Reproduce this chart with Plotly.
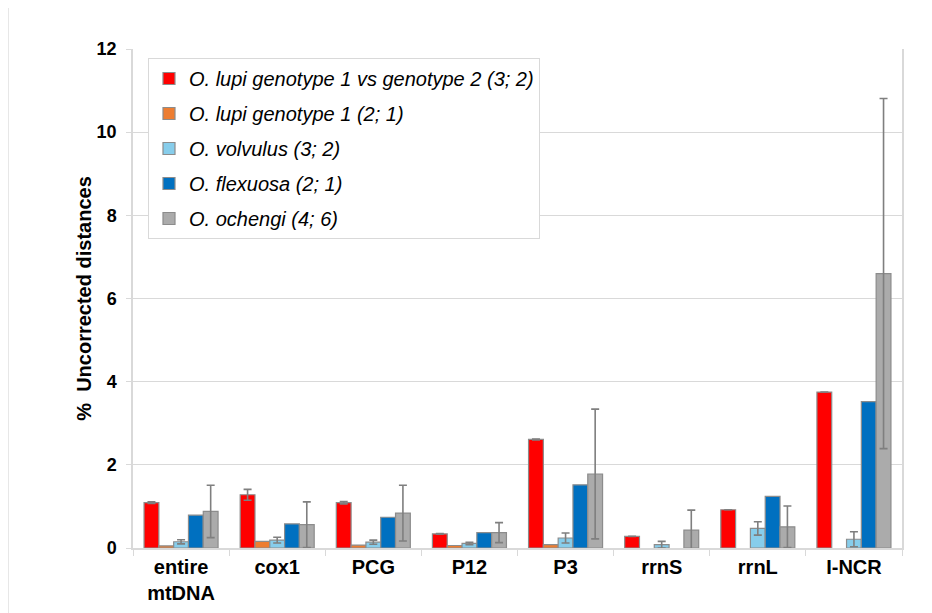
import plotly.graph_objects as go

categories = ["entire<br>mtDNA", "cox1", "PCG", "P12", "P3", "rrnS", "rrnL", "I-NCR"]

series_names = [
    "O. lupi genotype 1 vs genotype 2 (3; 2)",
    "O. lupi genotype 1 (2; 1)",
    "O. volvulus (3; 2)",
    "O. flexuosa (2; 1)",
    "O. ochengi (4; 6)",
]

lupi_g1_vs_g2 = [1.09, 1.28, 1.09, 0.34, 2.61, 0.28, 0.92, 3.75]
lupi_g1_vs_g2_err = [0.02, 0.13, 0.03, 0.01, 0.01, 0.0, 0.0, 0.0]

lupi_g1 = [0.05, 0.16, 0.07, 0.06, 0.08, None, None, None]
lupi_g1_err = [0.0, 0.0, 0.0, 0.0, 0.0, 0.0, 0.0, 0.0]

volvulus = [0.15, 0.19, 0.14, 0.11, 0.24, 0.08, 0.47, 0.21]
volvulus_err = [0.05, 0.07, 0.05, 0.03, 0.12, 0.08, 0.16, 0.18]

flexuosa = [0.79, 0.58, 0.74, 0.37, 1.52, None, 1.24, 3.52]
flexuosa_err = [0.0, 0.0, 0.0, 0.0, 0.0, 0.0, 0.0, 0.0]

ochengi = [0.88, 0.56, 0.84, 0.37, 1.78, 0.43, 0.51, 6.60]
ochengi_err = [0.63, 0.55, 0.67, 0.24, 1.56, 0.48, 0.50, 4.21]

colors = ["#FF0000", "#ED7D31", "#87CDEB", "#0070C0", "#ABABAB"]

values = [lupi_g1_vs_g2, lupi_g1, volvulus, flexuosa, ochengi]
errors = [lupi_g1_vs_g2_err, lupi_g1_err, volvulus_err, flexuosa_err, ochengi_err]
show_err = [True, False, True, False, True]

FONT = "Arial, Liberation Sans, sans-serif"

fig = go.Figure()
for i, (name, vals, errs, col, se) in enumerate(zip(series_names, values, errors, colors, show_err)):
    fig.add_trace(go.Bar(
        x=categories, y=vals, name=name, legendgroup=f"g{i}",
        marker=dict(color=col, line=dict(color="#8C8C8C", width=1.2)),
        error_y=dict(type="data", array=errs, visible=se, color="#7F7F7F",
                     thickness=1.6, width=4),
    ))

fig.update_layout(
    width=932, height=613,
    margin=dict(l=125, r=38, t=41, b=73),
    paper_bgcolor="white", plot_bgcolor="white",
    barmode="group", bargap=0.23, bargroupgap=0,
    font=dict(family=FONT, color="black"),
    showlegend=True,
    legend=dict(
        x=0.0195, y=0.982, xanchor="left", yanchor="top",
        bgcolor="white", bordercolor="#D9D9D9", borderwidth=1,
        font=dict(family=FONT, size=20, style="italic", color="black"),
        tracegroupgap=6, itemwidth=30,
    ),
    xaxis=dict(
        type="category",
        tickfont=dict(family=FONT, size=20, weight="bold", color="black"),
        showline=True, linecolor="#D9D9D9", linewidth=1.5,
        ticks="outside", tickson="boundaries", ticklen=6, tickcolor="#D9D9D9",
        showgrid=False,
    ),
    yaxis=dict(
        range=[0, 12], dtick=2, tick0=0,
        tickfont=dict(family=FONT, size=18, weight="bold", color="black"),
        ticklabelstandoff=6,
        title=dict(text="%  Uncorrected distances", standoff=0,
                   font=dict(family=FONT, size=20, weight="bold", color="black")),
        showline=True, linecolor="#D9D9D9", linewidth=1.5, mirror=True,
        ticks="outside", ticklen=5, tickcolor="#D9D9D9",
        showgrid=True, gridcolor="#D9D9D9", gridwidth=1.2,
        zeroline=False,
    ),
)

# outer chart border (light gray frame)
fig.add_shape(type="rect", xref="paper", yref="paper",
              x0=(8 - 133) / 769, x1=(945 - 133) / 769,
              y0=(548 - 620) / 499, y1=(548 - 5) / 499,
              line=dict(color="#E0E0E0", width=1.5), fillcolor="rgba(0,0,0,0)",
              layer="below")

fig.write_html("out.html")
